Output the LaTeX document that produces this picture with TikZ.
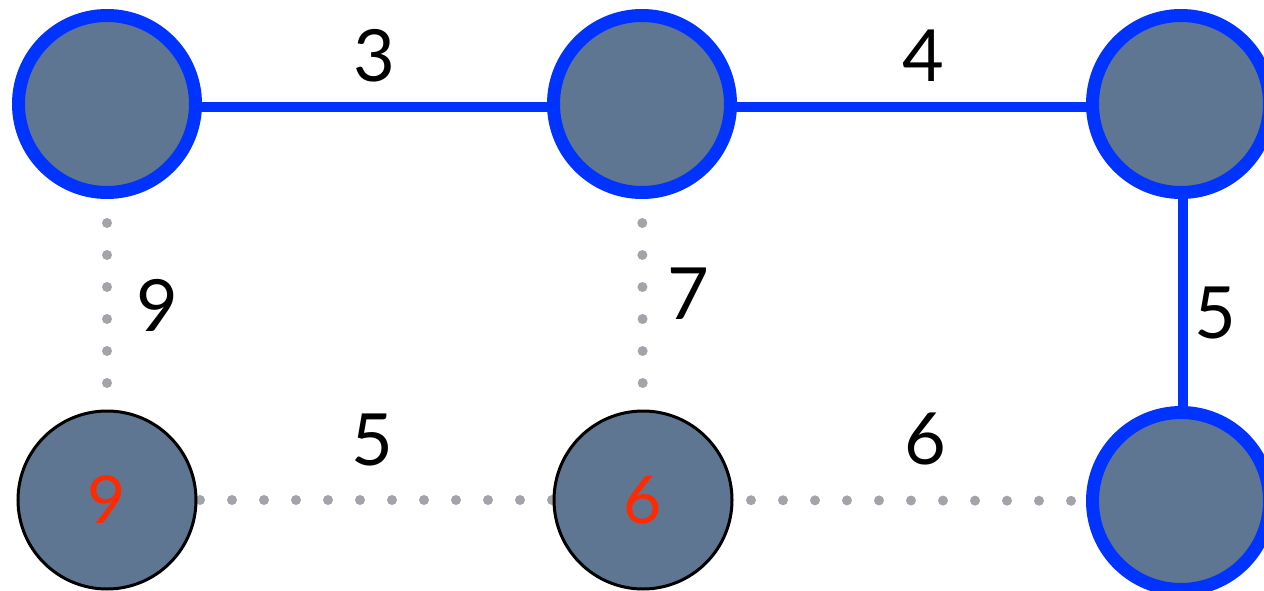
\documentclass[tikz,border=0pt]{standalone}
\usepackage{fontspec}
\setmainfont{Lato}
\usetikzlibrary{positioning}
\definecolor{slate}{HTML}{5E7691}
\definecolor{treeblue}{HTML}{0033FF}
\definecolor{dotgray}{HTML}{A3A3AA}
\definecolor{keyred}{HTML}{FF2A00}
\pgfdeclarelayer{background}
\pgfsetlayers{background,main}

\begin{document}
\begin{tikzpicture}[x=1pt, y=-1pt,
    vertex/.style={circle, fill=slate, minimum size=178pt, inner sep=0pt},
    intree/.style={vertex, draw=treeblue, line width=13pt, minimum size=177pt},
    outtree/.style={vertex, draw=black, line width=3pt,
                    font=\fontsize{66}{66}\selectfont, text=keyred},
    tree/.style={treeblue, line width=10pt},
    untree/.style={dotgray, line width=10pt, line cap=round,
                   dash pattern=on 0pt off 32pt},
    lbl/.style={font=\fontsize{72}{72}\selectfont, text=black, inner sep=0pt},
  ]
    \useasboundingbox (0,0) rectangle (1264,591);

    % vertices
    \node[intree]  (tl) at (107,104)  {};
    \node[intree]  (tm) at (642,104)  {};
    \node[intree]  (tr) at (1181,104) {};
    \node[outtree] (bl) at (107,500)  {9};
    \node[outtree] (bm) at (643,500)  {6};
    \node[intree]  (br) at (1181,501) {};

    % edges
    \begin{pgfonlayer}{background}
      \draw[tree] ([yshift=-3pt]tl.center) -- node[lbl, yshift=51pt]{3} ([yshift=-3pt]tm.center);
      \draw[tree] ([yshift=-3pt]tm.center) -- node[lbl, xshift=12pt, yshift=51pt]{4} ([yshift=-3pt]tr.center);
      \draw[tree] ([xshift=2pt]tr.center) -- node[lbl, xshift=32pt, yshift=-10pt]{5} ([xshift=2pt]br.center);
      \draw[untree, dash phase=9pt] (tl.center) -- node[lbl, xshift=50pt, yshift=-3pt]{9} (bl.center);
      \draw[untree, dash phase=9pt] (tm.center) -- node[lbl, xshift=46pt, yshift=8pt]{7} (bm.center);
      \draw[untree, dash phase=3pt] (bl.center) -- node[lbl, xshift=-3pt, yshift=60pt]{5} (bm.center);
      \draw[untree, dash phase=20pt] (bm.center) -- node[lbl, xshift=13pt, yshift=62pt]{6} (br.center);
    \end{pgfonlayer}
\end{tikzpicture}
\end{document}
